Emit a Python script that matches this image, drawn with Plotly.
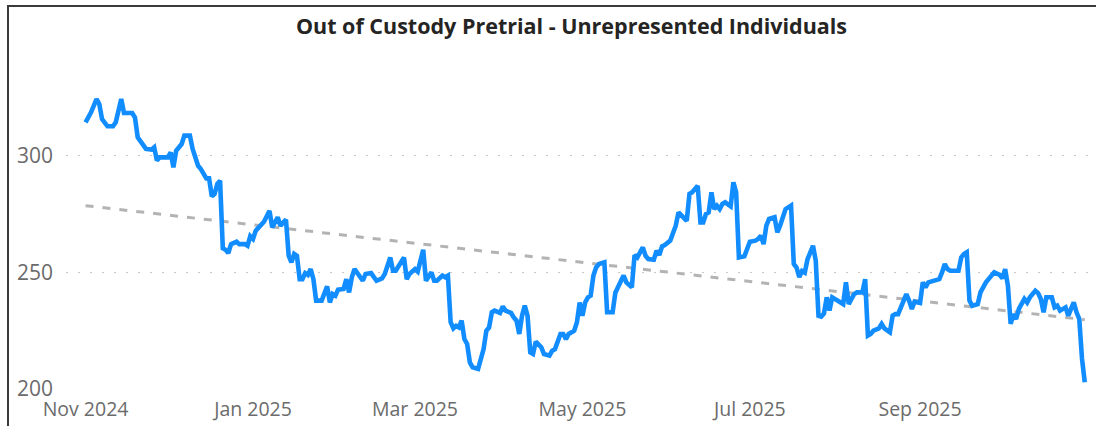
import plotly.graph_objects as go

title_text = "Out of Custody Pretrial - Unrepresented Individuals"

dates = [
    "2024-11-01", "2024-11-03", "2024-11-05", "2024-11-06", "2024-11-07", "2024-11-09", "2024-11-11", "2024-11-12",
    "2024-11-14", "2024-11-15", "2024-11-18", "2024-11-19", "2024-11-20", "2024-11-21", "2024-11-23", "2024-11-25",
    "2024-11-26", "2024-11-27", "2024-11-28", "2024-12-01", "2024-12-02", "2024-12-03", "2024-12-04", "2024-12-06",
    "2024-12-07", "2024-12-09", "2024-12-10", "2024-12-12", "2024-12-13", "2024-12-15", "2024-12-16", "2024-12-17",
    "2024-12-18", "2024-12-19", "2024-12-20", "2024-12-21", "2024-12-22", "2024-12-23", "2024-12-24", "2024-12-26",
    "2024-12-27", "2024-12-29", "2024-12-30", "2024-12-31", "2025-01-01", "2025-01-02", "2025-01-04", "2025-01-05",
    "2025-01-07", "2025-01-08", "2025-01-10", "2025-01-11", "2025-01-12", "2025-01-13", "2025-01-14", "2025-01-15",
    "2025-01-16", "2025-01-17", "2025-01-18", "2025-01-19", "2025-01-20", "2025-01-21", "2025-01-22", "2025-01-23",
    "2025-01-24", "2025-01-26", "2025-01-28", "2025-01-29", "2025-01-30", "2025-01-31", "2025-02-01", "2025-02-03",
    "2025-02-04", "2025-02-05", "2025-02-06", "2025-02-07", "2025-02-08", "2025-02-10", "2025-02-11", "2025-02-13",
    "2025-02-15", "2025-02-17", "2025-02-18", "2025-02-20", "2025-02-21", "2025-02-22", "2025-02-25", "2025-02-26",
    "2025-02-27", "2025-03-01", "2025-03-02", "2025-03-04", "2025-03-05", "2025-03-07", "2025-03-08", "2025-03-09",
    "2025-03-11", "2025-03-12", "2025-03-13", "2025-03-14", "2025-03-15", "2025-03-16", "2025-03-17", "2025-03-18",
    "2025-03-19", "2025-03-20", "2025-03-21", "2025-03-22", "2025-03-24", "2025-03-25", "2025-03-26", "2025-03-27",
    "2025-03-28", "2025-03-29", "2025-03-30", "2025-04-01", "2025-04-02", "2025-04-03", "2025-04-05", "2025-04-06",
    "2025-04-07", "2025-04-08", "2025-04-09", "2025-04-10", "2025-04-11", "2025-04-12", "2025-04-13", "2025-04-14",
    "2025-04-16", "2025-04-17", "2025-04-19", "2025-04-20", "2025-04-21", "2025-04-23", "2025-04-24", "2025-04-25",
    "2025-04-26", "2025-04-28", "2025-04-29", "2025-04-30", "2025-05-01", "2025-05-02", "2025-05-03", "2025-05-04",
    "2025-05-05", "2025-05-06", "2025-05-07", "2025-05-09", "2025-05-10", "2025-05-11", "2025-05-12", "2025-05-13",
    "2025-05-14", "2025-05-16", "2025-05-17", "2025-05-19", "2025-05-20", "2025-05-21", "2025-05-23", "2025-05-24",
    "2025-05-25", "2025-05-27", "2025-05-28", "2025-05-29", "2025-05-30", "2025-05-31", "2025-06-02", "2025-06-03",
    "2025-06-04", "2025-06-05", "2025-06-07", "2025-06-08", "2025-06-09", "2025-06-10", "2025-06-12", "2025-06-13",
    "2025-06-14", "2025-06-15", "2025-06-16", "2025-06-17", "2025-06-18", "2025-06-19", "2025-06-20", "2025-06-21",
    "2025-06-22", "2025-06-24", "2025-06-25", "2025-06-26", "2025-06-27", "2025-06-29", "2025-06-30", "2025-07-01",
    "2025-07-03", "2025-07-04", "2025-07-05", "2025-07-06", "2025-07-07", "2025-07-08", "2025-07-10", "2025-07-11",
    "2025-07-12", "2025-07-14", "2025-07-16", "2025-07-17", "2025-07-18", "2025-07-19", "2025-07-20", "2025-07-21",
    "2025-07-22", "2025-07-24", "2025-07-25", "2025-07-26", "2025-07-27", "2025-07-28", "2025-07-29", "2025-07-30",
    "2025-07-31", "2025-08-01", "2025-08-03", "2025-08-04", "2025-08-05", "2025-08-06", "2025-08-07", "2025-08-08",
    "2025-08-09", "2025-08-11", "2025-08-12", "2025-08-13", "2025-08-14", "2025-08-15", "2025-08-17", "2025-08-18",
    "2025-08-19", "2025-08-21", "2025-08-22", "2025-08-23", "2025-08-24", "2025-08-25", "2025-08-27", "2025-08-28",
    "2025-08-29", "2025-08-30", "2025-08-31", "2025-09-01", "2025-09-02", "2025-09-03", "2025-09-04", "2025-09-06",
    "2025-09-08", "2025-09-09", "2025-09-10", "2025-09-11", "2025-09-12", "2025-09-14", "2025-09-15", "2025-09-16",
    "2025-09-17", "2025-09-18", "2025-09-19", "2025-09-20", "2025-09-22", "2025-09-23", "2025-09-25", "2025-09-27",
    "2025-09-28", "2025-09-30", "2025-10-01", "2025-10-02", "2025-10-03", "2025-10-04", "2025-10-05", "2025-10-06",
    "2025-10-07", "2025-10-09", "2025-10-10", "2025-10-11", "2025-10-13", "2025-10-14", "2025-10-15", "2025-10-16",
    "2025-10-17", "2025-10-19", "2025-10-20", "2025-10-21", "2025-10-22", "2025-10-24", "2025-10-25", "2025-10-26",
    "2025-10-27", "2025-10-28", "2025-10-29", "2025-10-30", "2025-10-31",
]

values = [
    314.3, 318.6, 324.3, 322.2, 315.7, 312.6, 312.6, 314.3,
    324.3, 318.3, 318.3, 316.4, 307.9, 306.4, 302.9, 302.6,
    303.6, 297.9, 299.3, 299.3, 301.4, 295.0, 302.1, 305.0,
    308.6, 308.6, 302.9, 295.7, 294.3, 290.3, 290.3, 282.6,
    283.6, 287.9, 289.3, 260.3, 259.7, 258.3, 262.1, 263.1,
    262.1, 262.1, 261.4, 265.5, 264.3, 267.9, 270.0, 271.7,
    276.4, 269.3, 273.6, 270.0, 271.4, 272.6, 257.1, 254.3,
    257.9, 257.1, 247.1, 247.1, 249.7, 248.9, 251.4, 247.1,
    237.9, 237.9, 244.0, 237.1, 240.7, 240.0, 242.6, 242.9,
    247.1, 241.4, 247.9, 251.4, 249.7, 246.4, 249.3, 249.7,
    246.4, 247.4, 249.3, 256.4, 250.7, 250.7, 256.4, 247.1,
    249.3, 251.4, 250.3, 259.7, 246.4, 250.0, 246.4, 246.4,
    248.6, 247.9, 248.6, 228.6, 226.0, 227.1, 226.4, 229.3,
    221.4, 219.3, 211.4, 209.3, 208.6, 212.9, 217.1, 225.0,
    226.4, 232.9, 233.6, 232.6, 235.4, 233.6, 232.6, 230.7,
    229.3, 223.6, 231.4, 235.7, 231.4, 215.7, 215.0, 220.3,
    217.9, 215.0, 214.3, 216.4, 217.1, 223.6, 223.6, 221.4,
    223.6, 225.0, 228.6, 237.1, 231.4, 237.1, 239.3, 240.0,
    248.6, 252.1, 253.6, 254.3, 232.9, 232.9, 232.9, 241.3,
    243.6, 248.6, 245.7, 243.6, 257.4, 256.4, 260.7, 257.1,
    255.7, 255.4, 259.3, 257.4, 261.1, 261.7, 263.6, 267.1,
    270.0, 275.7, 273.6, 272.1, 283.6, 284.3, 287.1, 271.4,
    271.4, 275.0, 275.7, 284.3, 277.1, 278.6, 277.1, 279.3,
    280.0, 278.3, 288.6, 284.3, 256.4, 256.9, 260.0, 263.1,
    263.6, 264.3, 265.7, 262.1, 270.0, 272.9, 273.6, 267.1,
    270.0, 277.1, 278.6, 253.6, 252.1, 248.0, 250.6, 249.9,
    255.6, 261.4, 255.0, 231.4, 231.0, 232.4, 239.3, 233.6,
    239.3, 238.6, 237.4, 236.4, 245.7, 236.4, 238.6, 240.7,
    241.4, 241.4, 247.1, 222.9, 223.6, 225.0, 226.0, 227.9,
    226.0, 224.3, 231.4, 232.1, 232.1, 235.0, 240.7, 237.9,
    234.3, 237.4, 237.1, 236.9, 245.7, 243.6, 245.7, 246.4,
    247.1, 250.0, 253.6, 251.4, 250.7, 250.7, 250.7, 256.4,
    257.9, 258.6, 237.9, 235.7, 236.4, 241.4, 245.7, 248.6,
    250.0, 248.9, 247.4, 251.4, 244.3, 227.9, 232.1, 230.0,
    234.3, 238.6, 237.1, 239.3, 242.1, 241.1, 238.6, 232.9,
    239.3, 239.3, 235.0, 235.7, 233.6, 235.0, 231.4, 234.3,
    237.1, 232.9, 230.0, 212.9, 202.9,
]

trend_dates = ["2024-11-01", "2025-10-31"]
trend_values = [278.6, 229.7]

y_ticks = [200, 250, 300]
x_tick_dates = ["2024-11-01", "2025-01-01", "2025-03-01", "2025-05-01", "2025-07-01", "2025-09-01"]
x_tick_labels = ["Nov 2024", "Jan 2025", "Mar 2025", "May 2025", "Jul 2025", "Sep 2025"]

fig = go.Figure()
fig.add_trace(go.Scatter(
    x=trend_dates, y=trend_values, mode="lines",
    line=dict(color="#b3b3b3", width=3, dash="8px,9px"),
    hoverinfo="skip", showlegend=False,
))
fig.add_trace(go.Scatter(
    x=dates, y=values, mode="lines",
    line=dict(color="#118DFF", width=4.6),
    showlegend=False,
))

W, H = 1096, 426
ml, mr, mt, mb = 66, 3, 40, 37
pw = W - ml - mr
ph = H - mt - mb

def px_x(v):
    return (v - ml) / pw

def px_y(v):
    return (H - mb - v) / ph

fig.update_layout(
    width=W, height=H,
    margin=dict(l=ml, r=mr, t=mt, b=mb, autoexpand=False),
    paper_bgcolor="white", plot_bgcolor="white",
    font=dict(family="Open Sans, Noto Sans, sans-serif", color="#666666"),
    title=dict(
        text="<b>" + title_text + "</b>",
        xref="container", x=571.5 / W, xanchor="center",
        y=1 - 26 / H, yanchor="middle",
        font=dict(size=21.5, color="#252423", family="Open Sans, Noto Sans, sans-serif"),
    ),
    xaxis=dict(
        type="date",
        range=["2024-10-24 21:00", "2025-11-03"],
        tickvals=x_tick_dates, ticktext=x_tick_labels,
        showgrid=False, zeroline=False, showline=False,
        tickfont=dict(size=19.5, color="#6b6b6b"),
        ticks="", ticklabelstandoff=6,
    ),
    yaxis=dict(
        range=[200, 349.6],
        tickvals=y_ticks,
        showgrid=True, gridcolor="#c8c8c8", gridwidth=1, griddash="2px,10px",
        zeroline=False, showline=False,
        tickfont=dict(size=21, color="#6b6b6b"),
        ticks="", ticklabelstandoff=12,
    ),
    shapes=[dict(
        type="rect", xref="paper", yref="paper",
        x0=px_x(8), x1=px_x(1110), y0=px_y(440), y1=px_y(6),
        line=dict(color="#3a3a3a", width=2), fillcolor="rgba(0,0,0,0)", layer="above",
    )],
)

fig.write_html(
    "out.html",
    config={"displayModeBar": False},
    post_script="document.body.style.margin='0';document.body.style.padding='0';",
)
